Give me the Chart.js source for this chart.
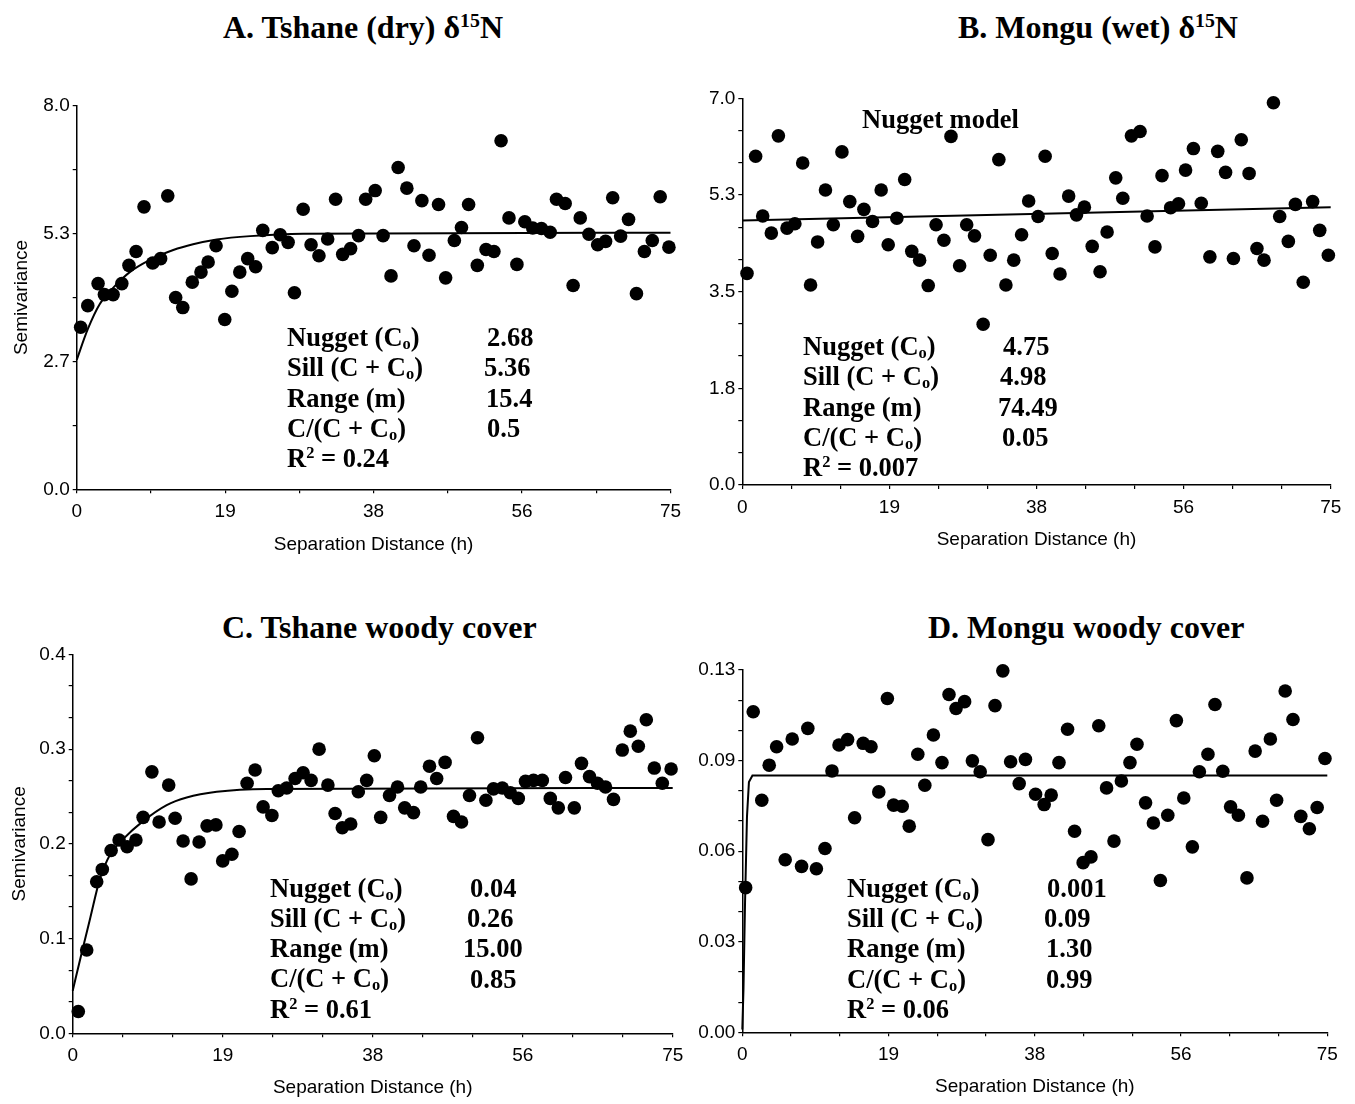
<!DOCTYPE html>
<html>
<head>
<meta charset="utf-8">
<title>Semivariograms</title>
<script src="https://cdn.jsdelivr.net/npm/chart.js"></script>
<style>
  body { margin:0; width:1355px; height:1104px; position:relative; background:#fff; overflow:hidden; }
  canvas { position:absolute; }
  .serif { position:absolute; font-family:"Liberation Serif","Times New Roman",serif; font-weight:bold; color:#000; white-space:nowrap; }
  .ttl { font-size:32px; line-height:36px; }
  .st { font-size:26.5px; line-height:30.3px; }
  sub { font-size:62%; vertical-align:-0.18em; line-height:0; }
  sup { font-size:62%; vertical-align:0.55em; line-height:0; }
</style>
</head>
<body>

<!-- panel titles -->
<div class="serif ttl" style="left:223px;top:8.5px">A. Tshane (dry) δ<sup>15</sup>N</div>
<div class="serif ttl" style="left:958px;top:8.5px">B. Mongu (wet) δ<sup>15</sup>N</div>
<div class="serif ttl" style="left:222px;top:608.5px">C. Tshane woody cover</div>
<div class="serif ttl" style="left:928px;top:608.5px">D. Mongu woody cover</div>

<canvas id="cA" width="700" height="470" style="left:0;top:90px"></canvas>
<canvas id="cB" width="665" height="480" style="left:690px;top:80px"></canvas>
<canvas id="cC" width="700" height="464" style="left:0;top:640px"></canvas>
<canvas id="cD" width="665" height="454" style="left:690px;top:650px"></canvas>

<!-- model stats -->
<div class="serif st" style="left:287px;top:322px">Nugget (C<sub>o</sub>)<br>Sill (C + C<sub>o</sub>)<br>Range (m)<br>C/(C + C<sub>o</sub>)<br>R<sup>2</sup> = 0.24</div>
<div class="serif st" style="left:487px;top:322px">2.68</div>
<div class="serif st" style="left:484px;top:352.3px">5.36</div>
<div class="serif st" style="left:486px;top:382.6px">15.4</div>
<div class="serif st" style="left:487px;top:412.9px">0.5</div>

<div class="serif st" style="left:862px;top:104px">Nugget model</div>
<div class="serif st" style="left:803px;top:331px">Nugget (C<sub>o</sub>)<br>Sill (C + C<sub>o</sub>)<br>Range (m)<br>C/(C + C<sub>o</sub>)<br>R<sup>2</sup> = 0.007</div>
<div class="serif st" style="left:1003px;top:331px">4.75</div>
<div class="serif st" style="left:1000px;top:361.3px">4.98</div>
<div class="serif st" style="left:998px;top:391.6px">74.49</div>
<div class="serif st" style="left:1002px;top:421.9px">0.05</div>

<div class="serif st" style="left:270px;top:872.6px">Nugget (C<sub>o</sub>)<br>Sill (C + C<sub>o</sub>)<br>Range (m)<br>C/(C + C<sub>o</sub>)<br>R<sup>2</sup> = 0.61</div>
<div class="serif st" style="left:470px;top:872.6px">0.04</div>
<div class="serif st" style="left:467px;top:902.9px">0.26</div>
<div class="serif st" style="left:463px;top:933.2px">15.00</div>
<div class="serif st" style="left:470px;top:963.5px">0.85</div>

<div class="serif st" style="left:847px;top:872.8px">Nugget (C<sub>o</sub>)<br>Sill (C + C<sub>o</sub>)<br>Range (m)<br>C/(C + C<sub>o</sub>)<br>R<sup>2</sup> = 0.06</div>
<div class="serif st" style="left:1047px;top:872.8px">0.001</div>
<div class="serif st" style="left:1044px;top:903.1px">0.09</div>
<div class="serif st" style="left:1046px;top:933.4px">1.30</div>
<div class="serif st" style="left:1046px;top:963.7px">0.99</div>

<script>
// A. Tshane (dry) d15N
const aDist = [0.5,1.4,2.7,3.5,4.6,5.7,6.6,7.5,8.5,9.6,10.6,11.5,12.5,13.4,14.6,15.7,16.6,17.6,18.7,19.6,
  20.6,21.6,22.6,23.5,24.7,25.7,26.7,27.5,28.6,29.6,30.6,31.7,32.7,33.6,34.6,35.6,36.5,37.7,38.7,39.7,
  40.6,41.7,42.6,43.6,44.5,45.7,46.6,47.7,48.6,49.5,50.6,51.7,52.7,53.6,54.6,55.6,56.6,57.6,58.7,59.8,
  60.6,61.7,62.7,63.6,64.7,65.8,66.8,67.7,68.7,69.7,70.7,71.7,72.7,73.7,74.8];
const aSemi = [3.38,3.83,4.29,4.06,4.06,4.29,4.67,4.96,5.89,4.72,4.81,6.12,4.00,3.79,4.32,4.53,4.74,5.08,3.54,4.13,
  4.53,4.81,4.64,5.40,5.04,5.31,5.15,4.10,5.84,5.10,4.87,5.22,6.05,4.90,5.02,5.29,6.05,6.23,5.29,4.45,
  6.71,6.28,5.08,6.02,4.88,5.94,4.41,5.19,5.46,5.94,4.67,5.00,4.96,7.27,5.66,4.69,5.58,5.45,5.44,5.36,
  6.05,5.96,4.25,5.66,5.32,5.10,5.17,6.08,5.28,5.63,4.08,4.96,5.19,6.10,5.05];
const aModelX = [0,1.4,2.9,4.6,6.7,9.2,12.2,14.7,17.7,21.9,28.6,75];
const aModelY = [2.70,3.34,3.86,4.20,4.53,4.78,4.99,5.11,5.21,5.28,5.33,5.35];
const aXTicks = ['0','19','38','56','75'];
const aYTicks = ['0.0','2.7','5.3','8.0'];

// B. Mongu (wet) d15N
const bDist = [0.6,1.7,2.6,3.7,4.6,5.7,6.7,7.7,8.7,9.6,10.6,11.6,12.7,13.7,14.7,15.5,16.6,17.7,18.6,19.7,
  20.7,21.6,22.6,23.7,24.7,25.7,26.6,27.7,28.6,29.6,30.7,31.6,32.7,33.6,34.6,35.6,36.5,37.7,38.6,39.5,
  40.5,41.6,42.6,43.6,44.6,45.6,46.5,47.6,48.5,49.6,50.7,51.6,52.6,53.5,54.6,55.6,56.5,57.5,58.5,59.6,
  60.6,61.6,62.6,63.6,64.6,65.6,66.5,67.7,68.5,69.6,70.5,71.5,72.7,73.6,74.7];
const bSemi = [3.83,5.95,4.87,4.56,6.32,4.65,4.73,5.83,3.62,4.40,5.34,4.71,6.03,5.13,4.50,4.99,4.77,5.34,4.35,4.83,
  5.53,4.23,4.07,3.61,4.71,4.43,6.31,3.97,4.71,4.51,2.91,4.16,5.89,3.62,4.07,4.53,5.14,4.86,5.95,4.19,
  3.82,5.23,4.89,5.03,4.32,3.86,4.58,5.56,5.19,6.32,6.40,4.87,4.31,5.60,5.02,5.09,5.70,6.09,5.10,4.13,
  6.04,5.66,4.10,6.25,5.64,4.28,4.07,6.92,4.86,4.41,5.08,3.67,5.13,4.61,4.16];
const bModelX = [0,75];
const bModelY = [4.79,5.03];
const bXTicks = ['0','19','38','56','75'];
const bYTicks = ['0.0','1.8','3.5','5.3','7.0'];

// C. Tshane woody cover
const cDist = [0.7,1.75,3.0,3.7,4.8,5.8,6.8,7.9,8.8,9.9,10.8,12.0,12.8,13.8,14.8,15.8,16.8,17.9,18.75,19.9,
  20.8,21.8,22.8,23.8,24.9,25.7,26.75,27.8,28.8,29.8,30.8,31.9,32.8,33.7,34.75,35.7,36.75,37.7,38.5,39.6,
  40.6,41.5,42.6,43.5,44.6,45.5,46.55,47.6,48.6,49.6,50.6,51.65,52.6,53.7,54.7,55.7,56.6,57.6,58.7,59.7,
  60.7,61.6,62.7,63.6,64.6,65.6,66.6,67.6,68.7,69.7,70.7,71.7,72.7,73.7,74.8];
const cSemi = [0.023,0.088,0.160,0.173,0.193,0.204,0.197,0.204,0.228,0.276,0.223,0.262,0.227,0.203,0.163,0.202,0.219,0.220,0.182,0.189,
  0.213,0.264,0.278,0.239,0.230,0.256,0.259,0.269,0.275,0.267,0.300,0.262,0.232,0.217,0.221,0.255,0.267,0.293,0.228,0.251,
  0.260,0.238,0.233,0.260,0.282,0.269,0.286,0.229,0.223,0.251,0.312,0.246,0.258,0.259,0.254,0.248,0.266,0.267,0.267,0.248,
  0.238,0.270,0.238,0.285,0.271,0.264,0.260,0.247,0.299,0.319,0.303,0.331,0.280,0.264,0.279];
const cModelX = [0,1.1,2.2,3.4,4.7,6.3,8.8,11.75,14.25,18,24.25,75];
const cModelY = [0.045,0.084,0.122,0.163,0.189,0.205,0.224,0.241,0.249,0.255,0.258,0.259];
const cXTicks = ['0','19','38','56','75'];
const cYTicks = ['0.0','0.1','0.2','0.3','0.4'];

// D. Mongu woody cover
const dDist = [0.43,1.4,2.5,3.45,4.4,5.5,6.4,7.6,8.4,9.5,10.6,11.5,12.4,13.5,14.4,15.5,16.5,17.5,18.6,19.4,
  20.5,21.4,22.5,23.4,24.5,25.6,26.5,27.4,28.5,29.5,30.5,31.5,32.4,33.4,34.4,35.5,36.3,37.6,38.7,39.6,
  40.6,41.7,42.6,43.7,44.7,45.7,46.7,47.65,48.6,49.7,50.6,51.7,52.7,53.6,54.55,55.65,56.6,57.7,58.6,59.7,
  60.6,61.6,62.6,63.6,64.7,65.75,66.7,67.7,68.5,69.6,70.6,71.6,72.7,73.7,74.7];
const dSemi = [0.0503,0.1115,0.0807,0.0929,0.0993,0.0600,0.1020,0.0577,0.1057,0.0569,0.0639,0.0909,0.0999,0.1018,0.0746,0.1005,0.0993,0.0836,0.1161,0.0790,
  0.0786,0.0717,0.0967,0.0859,0.1034,0.0938,0.1175,0.1126,0.1150,0.0944,0.0906,0.0670,0.1136,0.1257,0.0941,0.0865,0.0949,0.0828,0.0792,0.0825,
  0.0938,0.1054,0.0699,0.0590,0.0610,0.1066,0.0850,0.0665,0.0874,0.0938,0.1002,0.0798,0.0728,0.0528,0.0755,0.1084,0.0815,0.0645,0.0906,0.0967,
  0.1140,0.0908,0.0784,0.0755,0.0537,0.0978,0.0734,0.1020,0.0807,0.1187,0.1088,0.0751,0.0708,0.0782,0.0952];
const dModelX = [0,0.15,0.35,0.6,0.85,1.3,75];
const dModelY = [0.001,0.015,0.045,0.075,0.087,0.0893,0.0893];
const dXTicks = ['0','19','38','56','75'];
const dYTicks = ['0.00','0.03','0.06','0.09','0.13'];

Chart.defaults.color = '#000';
Chart.defaults.font.family = '"Liberation Sans", Arial, sans-serif';

// tick marks between the labelled ones (minor ticks)
function tickValues(max, nLabels, sub) {
  const n = (nLabels - 1) * sub, out = [];
  for (let i = 0; i <= n; i++) out.push(max * i / n);
  return out;
}

function axis(max, labels, sub, extra) {
  const vals = tickValues(max, labels.length, sub);
  return Object.assign({
    type: 'linear', min: 0, max: max,
    afterBuildTicks: s => { s.ticks = vals.map(v => ({ value: v })); },
    grid: { drawOnChartArea: false, drawTicks: true, tickLength: 4, color: '#000', lineWidth: 1.2 },
    border: { display: true, color: '#000', width: 1.5 },
    ticks: {
      autoSkip: false, maxRotation: 0, font: { size: 19 },
      callback: (v, i) => (i % sub === 0 ? labels[i / sub] : '')
    }
  }, extra);
}

function drawPanel(id, dist, semi, modelX, modelY, p) {
  const x = axis(p.xMax, p.xTicks, p.xSub, {
    afterFit: s => { s.height = p.xH; },
    title: { display: true, text: 'Separation Distance (h)', font: { size: 19 }, padding: { top: 0, bottom: p.xTitlePad } }
  });
  x.ticks.padding = 7;
  const y = axis(p.yMax, p.yTicks, p.ySub, {
    afterFit: s => { s.width = p.yW; },
    title: p.yTitlePad == null ? { display: false } :
      { display: true, text: 'Semivariance', font: { size: 19 }, padding: { top: p.yTitlePad, bottom: 0 } }
  });
  y.ticks.padding = 3;

  new Chart(document.getElementById(id), {
    type: 'scatter',
    data: {
      datasets: [
        {
          data: modelX.map((v, i) => ({ x: v, y: modelY[i] })),
          showLine: true, borderColor: '#000', borderWidth: 2, pointRadius: 0,
          cubicInterpolationMode: p.smooth ? 'monotone' : 'default', tension: 0, clip: false
        },
        {
          data: dist.map((v, i) => ({ x: v, y: semi[i] })),
          backgroundColor: '#000', borderWidth: 0, pointRadius: 6.8, clip: false
        }
      ]
    },
    options: {
      responsive: false,
      animation: false,
      layout: { padding: { left: 0, right: p.padR, top: p.padT, bottom: 0 } },
      plugins: { legend: { display: false }, tooltip: { enabled: false } },
      scales: { x: x, y: y }
    }
  });
}

drawPanel('cA', aDist, aSemi, aModelX, aModelY, {
  xMax: 75, xTicks: aXTicks, xSub: 2, yMax: 8, yTicks: aYTicks, ySub: 2,
  yW: 76.7, xH: 70.7, padR: 29.5, padT: 15.7, xTitlePad: 3.6, yTitlePad: 10.3, smooth: true
});
drawPanel('cB', bDist, bSemi, bModelX, bModelY, {
  xMax: 75, xTicks: bXTicks, xSub: 3, yMax: 7, yTicks: bYTicks, ySub: 3,
  yW: 52.3, xH: 75, padR: 24.3, padT: 18.3, xTitlePad: 8.6, yTitlePad: null, smooth: false
});
drawPanel('cC', cDist, cSemi, cModelX, cModelY, {
  xMax: 75, xTicks: cXTicks, xSub: 3, yMax: 0.4, yTicks: cYTicks, ySub: 3,
  yW: 72.7, xH: 70.7, padR: 27.3, padT: 12.3, xTitlePad: 4.6, yTitlePad: 8.6, smooth: true
});
drawPanel('cD', dDist, dSemi, dModelX, dModelY, {
  xMax: 75, xTicks: dXTicks, xSub: 3, yMax: 0.126, yTicks: dYTicks, ySub: 3,
  yW: 52.3, xH: 71.7, padR: 27.7, padT: 20, xTitlePad: 5.6, yTitlePad: null, smooth: false
});
</script>
</body>
</html>
